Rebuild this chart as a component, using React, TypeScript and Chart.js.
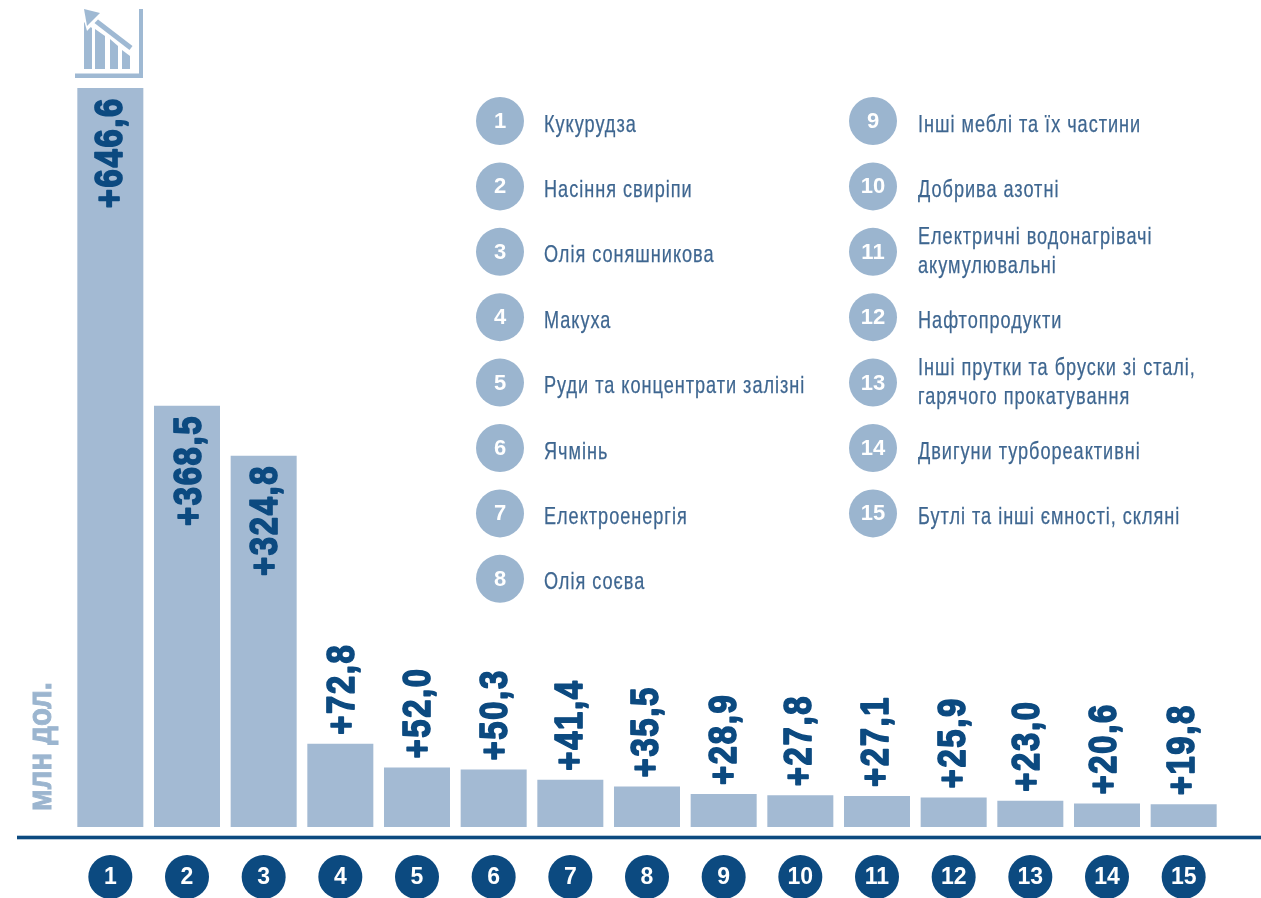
import React, { useEffect, useRef } from "react";
import { Chart, registerables } from "chart.js";

Chart.register(...registerables);

const categories = ["1","2","3","4","5","6","7","8","9","10","11","12","13","14","15"];
const values = [646.6,368.5,324.8,72.8,52.0,50.3,41.4,35.5,28.9,27.8,27.1,25.9,23.0,20.6,19.8];
const valueLabels = ["+646,6","+368,5","+324,8","+72,8","+52,0","+50,3","+41,4","+35,5","+28,9","+27,8","+27,1","+25,9","+23,0","+20,6","+19,8"];
const legendLeft = [
  ["Кукурудза"],["Насіння свиріпи"],["Олія соняшникова"],["Макуха"],
  ["Руди та концентрати залізні"],["Ячмінь"],["Електроенергія"],["Олія соєва"],
];
const legendRight = [
  ["Інші меблі та їх частини"],["Добрива азотні"],["Електричні водонагрівачі","акумулювальні"],["Нафтопродукти"],
  ["Інші прутки та бруски зі сталі,","гарячого прокатування"],["Двигуни турбореактивні"],["Бутлі та інші ємності, скляні"],
];
const unitLabel = "млн дол.";
const labelNudge = [12,14,13,14,13,13,12,11,12,11,11,11,9,9,10];

const BAR = "#a3bad3";
const NAVY = "#0c4a80";
const BADGE = "#9bb5cf";
const TEXT = "#3e6690";
const ICON = "#9fb9d3";

function narrowText(ctx: any, s: string, x: number, y: number) {
  ctx.save();
  ctx.translate(x, y);
  ctx.scale(0.755, 1);
  ctx.letterSpacing = "1.3px";
  ctx.strokeStyle = TEXT;
  ctx.lineWidth = 0.25;
  ctx.fillText(s, 0, 0);
  ctx.strokeText(s, 0, 0);
  ctx.restore();
}

function drawLegend(ctx: CanvasRenderingContext2D, items: string[][], startIndex: number, cx: number, tx: number) {
  items.forEach((lines, i) => {
    const y = 121 + i * 65.4;
    ctx.fillStyle = BADGE;
    ctx.beginPath();
    ctx.arc(cx, y, 24, 0, Math.PI * 2);
    ctx.fill();
    ctx.fillStyle = "#ffffff";
    ctx.font = "bold 22px 'Liberation Sans'";
    ctx.textAlign = "center";
    ctx.textBaseline = "middle";
    ctx.fillText(String(startIndex + i), cx, y + 1);
    ctx.fillStyle = TEXT;
    ctx.font = "24px 'Liberation Sans'";
    ctx.textAlign = "left";
    if (lines.length === 1) {
      narrowText(ctx, lines[0], tx, y + 4);
    } else {
      narrowText(ctx, lines[0], tx, y - 14);
      narrowText(ctx, lines[1], tx, y + 15);
    }
  });
}

function drawIcon(ctx: CanvasRenderingContext2D) {
  ctx.fillStyle = ICON;
  ctx.fillRect(75, 73.5, 68, 4.5);
  ctx.fillRect(139, 9, 4, 69);
  const bars = [[84, 92, 22, 28], [95, 105, 29, 36], [110, 118, 39, 46], [122, 130, 50, 56]];
  bars.forEach(([l, r, a, b]) => {
    ctx.beginPath();
    ctx.moveTo(l, 69);
    ctx.lineTo(l, a);
    ctx.lineTo(r, b);
    ctx.lineTo(r, 69);
    ctx.closePath();
    ctx.fill();
  });
  ctx.strokeStyle = "#ffffff";
  ctx.lineWidth = 8;
  ctx.beginPath();
  ctx.moveTo(90, 18);
  ctx.lineTo(133, 51);
  ctx.stroke();
  ctx.strokeStyle = ICON;
  ctx.lineWidth = 5;
  ctx.beginPath();
  ctx.moveTo(92, 18);
  ctx.lineTo(131, 48);
  ctx.stroke();
  ctx.fillStyle = "#ffffff";
  ctx.beginPath();
  ctx.moveTo(80, 6);
  ctx.lineTo(105, 12);
  ctx.lineTo(87, 31);
  ctx.closePath();
  ctx.fill();
  ctx.fillStyle = ICON;
  ctx.beginPath();
  ctx.moveTo(84, 9);
  ctx.lineTo(100, 13);
  ctx.lineTo(87, 26);
  ctx.closePath();
  ctx.fill();
}

const overlay = {
  id: "overlay",
  afterDraw(chart: any) {
    const { ctx } = chart;
    const xs = chart.scales.x;
    const ys = chart.scales.y;
    ctx.save();

    // value labels
    values.forEach((v, i) => {
      const x = xs.getPixelForValue(i);
      const top = ys.getPixelForValue(v);
      ctx.save();
      ctx.translate(x + labelNudge[i], i < 3 ? top + 9 : top - 9);
      ctx.rotate(-Math.PI / 2);
      ctx.scale(0.84, 1);
      ctx.letterSpacing = "2px";
      ctx.fillStyle = NAVY;
      ctx.strokeStyle = NAVY;
      ctx.lineWidth = 1.7;
      ctx.lineJoin = "round";
      ctx.font = "bold 39px 'Liberation Sans'";
      ctx.textBaseline = "alphabetic";
      ctx.textAlign = i < 3 ? "right" : "left";
      ctx.fillText(valueLabels[i], 0, 0);
      ctx.strokeText(valueLabels[i], 0, 0);
      ctx.restore();
    });

    // baseline
    ctx.fillStyle = NAVY;
    ctx.fillRect(17, 835.7, 1244, 3.6);

    // category badges
    categories.forEach((c, i) => {
      const x = xs.getPixelForValue(i);
      ctx.fillStyle = NAVY;
      ctx.beginPath();
      ctx.arc(x, 877, 22, 0, Math.PI * 2);
      ctx.fill();
      ctx.fillStyle = "#ffffff";
      ctx.font = "bold 23px 'Liberation Sans'";
      ctx.textAlign = "center";
      ctx.textBaseline = "middle";
      ctx.fillText(c, x, 878);
    });

    // unit
    ctx.save();
    ctx.translate(51, 811);
    ctx.rotate(-Math.PI / 2);
    ctx.scale(0.89, 1);
    ctx.fillStyle = BADGE;
    ctx.strokeStyle = BADGE;
    ctx.lineWidth = 1;
    ctx.font = "bold 33px 'Liberation Sans'";
    ctx.textAlign = "left";
    ctx.textBaseline = "alphabetic";
    ctx.fillText(unitLabel, 0, 0);
    ctx.strokeText(unitLabel, 0, 0);
    ctx.restore();

    // legend
    drawLegend(ctx, legendLeft, 1, 500, 544);
    drawLegend(ctx, legendRight, 9, 873, 918);

    drawIcon(ctx);
    ctx.restore();
  },
};

export default function App() {
  const ref = useRef<HTMLCanvasElement>(null);
  useEffect(() => {
    const chart = new Chart(ref.current as HTMLCanvasElement, {
      type: "bar",
      data: {
        labels: categories,
        datasets: [{ data: values, backgroundColor: BAR, borderWidth: 0, barPercentage: 1, categoryPercentage: 0.861 }],
      },
      options: {
        responsive: false,
        animation: false,
        layout: { padding: { left: 72, right: 39, top: 88, bottom: 71 } },
        plugins: { legend: { display: false }, tooltip: { enabled: false } },
        scales: {
          x: { display: false },
          y: { display: false, min: 0, max: 646.6 },
        },
      },
      plugins: [overlay],
    });
    return () => chart.destroy();
  }, []);
  return (
    <div style={{ position: "absolute", left: 0, top: 0, width: 1261, height: 898, background: "#fff" }}>
      <canvas ref={ref} width={1261} height={898} style={{ display: "block" }} />
    </div>
  );
}
